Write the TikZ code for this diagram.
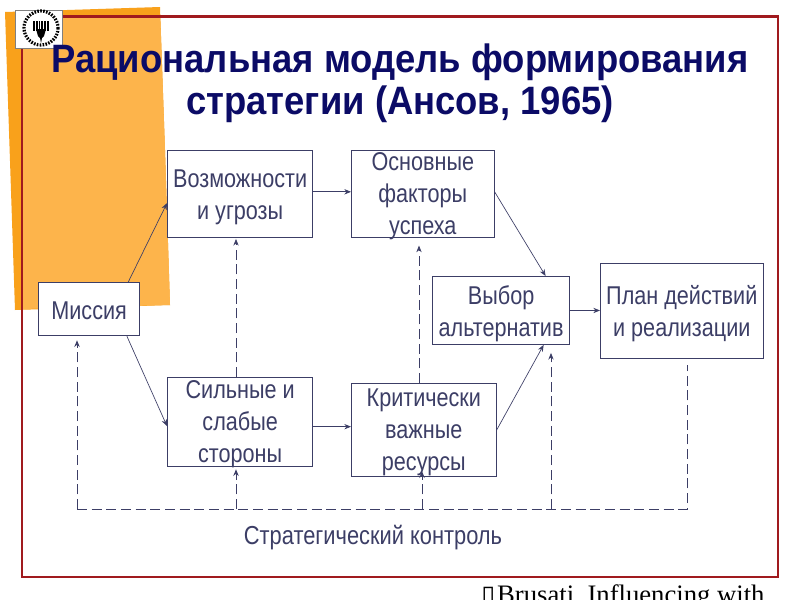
\documentclass[tikz,border=0pt]{standalone}
\usepackage{fontspec}
\setmainfont[FakeStretch=0.84]{Liberation Sans}
\newfontfamily\titlefont[FakeStretch=0.92]{Liberation Sans}
\newfontfamily\serifnote{Liberation Serif}
\newfontfamily\symbolfont{DejaVu Sans}
\usepackage{xcolor}
\usetikzlibrary{arrows.meta}
\definecolor{boxtext}{HTML}{3C3E66}
\definecolor{titleblue}{HTML}{0B0B66}
\definecolor{framered}{HTML}{A01A1E}
\definecolor{sheetdark}{HTML}{F9A11B}
\definecolor{sheetlight}{HTML}{FDB44B}
\newcommand{\topgap}[1][19pt]{\rule{0pt}{#1}}
\tikzset{
	blockbox/.style={draw=boxtext, line width=0.7pt, fill=white, text=boxtext, font=\fontsize{19.3}{24}\selectfont, align=center, anchor=north west, inner sep=0pt},
	threelines/.style={blockbox, text height=60.5pt, text depth=0pt},
	link/.style={draw=boxtext, line width=0.5pt, -{Stealth[length=5pt,width=4pt]}},
	ctrl/.style={draw=boxtext, line width=0.6pt, dash pattern=on 7.5pt off 3.5pt},
	ctrlarrow/.style={ctrl, -{Stealth[length=5pt,width=4pt]}},
}
\begin{document}
\begin{tikzpicture}[x=0.75pt, y=-0.75pt]
	\useasboundingbox (0,0) rectangle (800,600);
	\fill [white] (0,0) rectangle (800,600);

	% orange sheet behind the frame
	\fill [sheetdark] (5,12) -- (160,7) -- (165,150) -- (170,305) -- (15,310) -- cycle;
	\fill [sheetlight] (22,17) -- (160.3,17) -- (165,150) -- (170,305) -- (22,309) -- cycle;

	% frame
	\draw [framered, line width=2.2pt] (22,16.5) rectangle (778,577);

	% logo
	\node (logobox) [draw=black!50, line width=0.3pt, fill=white, minimum width=35, minimum height=28.5, inner sep=0pt, anchor=north west] at (15,10) {};
	\draw [black, line width=2.4pt, dash pattern=on 1.2pt off 1pt] (41,28) circle [radius=17];
	\draw [black, line width=7pt, dash pattern=on 1.3pt off 0.8pt] (33,26) -- (49,26);
	\fill [black] (36,29) -- (46,29) -- (44,36) -- (42,38) -- (41,43) -- (40,38) -- (38,36) -- cycle;

	% title
	\node (title) [text=titleblue, font=\titlefont\fontsize{29.7}{31.5}\selectfont\bfseries, align=center] at (400,83.5) {Рациональная модель формирования\\стратегии (Ансов, 1965)};

	% blocks
	\node (mission) [blockbox, minimum width=76, minimum height=40] at (38,282) {\topgap[15.5pt]Миссия};
	\node (chances) [blockbox, minimum width=109, minimum height=65] at (167,150) {\topgap Возможности\\и угрозы};
	\node (factors) [threelines, minimum width=107, minimum height=65] at (351,150) {Основные\\факторы\\успеха};
	\node (choice) [blockbox, minimum width=103, minimum height=51] at (432,276) {\topgap Выбор\\альтернатив};
	\node (plan) [blockbox, minimum width=122, minimum height=71] at (600,263) {\topgap План действий\\и реализации};
	\node (sides) [threelines, minimum width=109, minimum height=67] at (167,377) {Сильные и\\слабые\\стороны};
	\node (assets) [threelines, minimum width=108.5, minimum height=70] at (351,383) {Критически\\важные\\ресурсы};

	% solid arrows
	\draw [link] ([xshift=-9]mission.north east) -- ([yshift=-7]chances.west);
	\draw [link] ([xshift=-10]mission.south east) -- ([yshift=-3]sides.west);
	\draw [link] ([yshift=1.5]chances.east) -- ([yshift=1.5]factors.west);
	\draw [link] ([yshift=-3.4]sides.east) -- ([yshift=2.6]assets.west);
	\draw [link] ([yshift=1.5]factors.east) -- ([xshift=-18.5]choice.north east);
	\draw [link] (assets.east) -- ([xshift=-20]choice.south east);
	\draw [link] (choice.east) -- (plan.west |- choice.east);

	% control loop
	\coordinate (loopleft) at (77,509);
	\coordinate (loopright) at (687,509);
	\coordinate (looptop) at (687,365);
	\coordinate (tapchoice) at (551,509);
	\coordinate (tapassets) at (422,509);
	\coordinate (tapsides) at (236,509);
	\coordinate (upfactors) at (419,300);
	\draw [ctrl] (loopleft) -- (loopright) -- (looptop);
	\draw [ctrlarrow] (loopleft) -- ([yshift=-3]mission.south -| loopleft);
	\draw [ctrlarrow] (tapsides) -- ([yshift=-1.5]sides.south -| tapsides);
	\draw [ctrlarrow] (tapassets) -- ([yshift=4.5]assets.south -| tapassets);
	\draw [ctrlarrow] (tapchoice) -- ([yshift=-6]choice.south -| tapchoice);
	\draw [ctrlarrow] (sides.north -| tapsides) -- ([yshift=-1]chances.south -| tapsides);
	\draw [ctrlarrow] (assets.north -| upfactors) -- ([yshift=-6]factors.south -| upfactors);

	\node (control) [text=boxtext, font=\fontsize{19.5}{22}\selectfont] at (373,538) {Стратегический контроль};

	% footnote, cut by the page edge
	\node (note) [anchor=base west, font=\serifnote\fontsize{20}{22}\selectfont, inner sep=0pt] at (481,603) {{\symbolfont\fontsize{19}{20}\selectfont ▯}\kern1.5pt Brusati, Influencing with};
\end{tikzpicture}
\end{document}
